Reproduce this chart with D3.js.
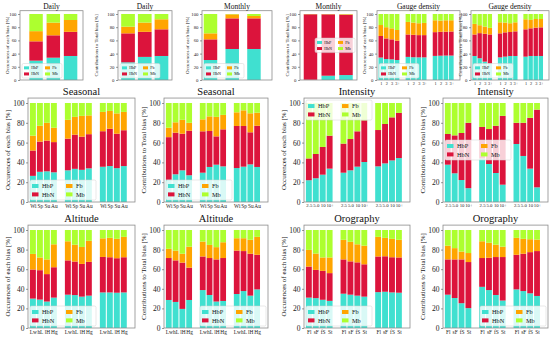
<!DOCTYPE html>
<html><head><meta charset="utf-8">
<script src="https://cdn.jsdelivr.net/npm/d3@7"></script>
<style>body{margin:0;background:#fff}svg{display:block;font-family:"Liberation Serif","DejaVu Serif",serif}</style>
</head><body>
<svg id="c" width="550" height="338"></svg>
<script>
// ---------- categories / labels ----------
const seriesKeys = ["HbP","HbN","Fb","Mb"];
const seriesColors = {HbP:"#40E0D0", HbN:"#DC143C", Fb:"#FFA500", Mb:"#ADFF2F"};
const legendOrder = ["HbP","Fb","HbN","Mb"];
const yTicks = [0,20,40,60,80,100];
const gaugeLabels = ["1","2","3","3+"];
const seasonLabels = ["Wi","Sp","Su","Au"];
const intensityLabels = ["2.5","5.0","10","10+"];
const altitudeLabels = ["Lw","hL","lH","Hg"];
const orographyLabels = ["Fl","sF","fS","St"];
const occLabel = "Occurences of each bias [%]";
const conLabel = "Contributions to Total bias [%]";

// ---------- series values ----------
const dailyOccHbP = [29.3,33.8,36.4];
const dailyOccHbN = [29.3,33.9,36.6];
const dailyOccFb  = [15.4,19.2,17.9];
const dailyOccMb  = [26.0,13.1,9.1];

const dailyConHbP = [26.8,35.0,36.4];
const dailyConHbN = [43.9,38.0,40.4];
const dailyConFb  = [10.1,14.0,15.2];
const dailyConMb  = [19.2,13.0,8.0];

const monthlyOccHbP = [30.3,47.0,47.0];
const monthlyOccHbN = [31.3,46.4,46.4];
const monthlyOccFb  = [9.1,6.1,3.6];
const monthlyOccMb  = [29.3,0.5,3.0];

const monthlyConHbP = [0.3,6.5,7.5];
const monthlyConHbN = [99.3,93.0,91.5];
const monthlyConFb  = [0.2,0.3,0.7];
const monthlyConMb  = [0.2,0.2,0.3];

const gaugeOccHbP = [34,31.8,31.3,30.3, 35,34.5,34.3,34.3, 36.5,36.8,37,37];
const gaugeOccHbN = [32.7,31.2,30.3,29.3, 34,34,33.7,33.7, 36,36.2,36.2,36.5];
const gaugeOccFb  = [16.6,17,16.7,16.2, 19,18.5,18,18.5, 18,17,17.3,17];
const gaugeOccMb  = [16.7,20,21.7,24.2, 12,13,14,13.5, 9.5,10,9.5,9.5];

const gaugeConHbP = [36.4,33,27.8,25, 34.3,35.4,36.4,36.4, 35.4,36.4,36.4,36.4];
const gaugeConHbN = [32.6,38,42.2,44, 36.4,36.8,36.3,37.3, 41.4,41.9,42.9,43.4];
const gaugeConFb  = [16,12,11,10, 16.7,14.8,13.3,13.7, 15.2,12.7,13.1,12.6];
const gaugeConMb  = [15,17,19,21, 12.6,13,14,12.6, 8,9,7.6,7.6];

const seasonOccHbP = [26.4,30.5,31,30, 32,33.5,32.5,34, 35.6,36.3,34.2,36.3];
const seasonOccHbN = [25.6,30.5,31,30.5, 32,34.5,33.5,34.5, 35.9,37.7,34.8,36.2];
const seasonOccFb  = [15,16,18,14.5, 19,18,21,19, 19.5,18,20.5,18.5];
const seasonOccMb  = [33,23,20,25, 17,14,13,12.5, 9,8,10.5,9];

const seasonConHbP = [22.5,28,32,27, 29.6,35.4,37.7,36, 34.3,35.7,38,35.4];
const seasonConHbN = [43,42,37,45, 41.8,36.3,28.6,37.4, 42.5,41.1,32.4,41.6];
const seasonConFb  = [9.5,10.5,14,8, 12.1,14.8,19.7,14.6, 13.8,15.8,19.2,13.2];
const seasonConMb  = [25,19.5,17,20, 16.5,13.5,14,12, 9.4,7.4,10.4,9.8];

const intensOccHbP = [22,24,27.6,33.7, 29.6,32,35.7,40.4, 36,39,42,44.4];
const intensOccHbN = [22,24.5,28,33.3, 29.4,31.6,35.7,42.1, 36.7,39.8,43.5,45.6];
const intensOccFb  = [0,0,0,0, 0,0,0,0, 0,0,0,0];
const intensOccMb  = [56,51.5,44.4,33, 41,36.4,28.6,17.5, 27.3,21.2,14.5,10];

const intensConHbP = [37.7,29,22.2,14, 44,38.4,29.3,17.5, 58.6,46.5,33.7,14.8];
const intensConHbN = [31,38.3,47.5,66, 31.8,35.3,47.7,69.5, 21.4,33.5,51.3,78.5];
const intensConFb  = [0,0,0,0, 0,0,0,0, 0,0,0,0];
const intensConMb  = [31.3,32.7,30.3,20, 24.2,26.3,23,13, 20,20,15,6.7];

const altOccHbP = [30,29,27,31, 34,33.6,32,33, 36.3,36.3,36,36.3];
const altOccHbN = [29.7,30,28,31, 35,34.2,33.4,34.5, 36.2,35.9,35.2,35.9];
const altOccFb  = [15.9,13,15,23.4, 19.5,17.2,17.3,21.5, 19,19.8,19.8,20.8];
const altOccMb  = [24.4,28,30,14.6, 11.5,15,17.3,11, 8.5,8,9,7];

const altConHbP = [28.6,26.6,19.5,28.6, 38.7,33.7,27,27.6, 34.7,37.7,33,39.4];
const altConHbN = [42.8,42.4,47.2,33, 34.3,37.7,43,43.8, 44.3,40.8,42.8,35.3];
const altConFb  = [9.4,10,9.1,21.4, 15.2,13.4,12.5,16.1, 12.6,13.1,14.2,18.3];
const altConMb  = [19.2,21,24.2,17, 11.8,15.2,17.5,12.5, 8.4,8.4,10,7];

const oroOccHbP = [31,30.5,28.8,27.7, 35,34,33,32, 36.6,37,36.3,36];
const oroOccHbN = [31.7,28.8,29.5,28.3, 35,34,34,33, 36.4,36.2,35.9,36];
const oroOccFb  = [17,16.7,13.7,16, 20,20,18.4,19, 20,18.8,18.8,18];
const oroOccMb  = [20.3,24,28,28, 10,12,14.6,16, 7,8,9,10];

const oroConHbP = [34,30.6,25.3,20.3, 42,38.7,33.7,28, 39.4,37.7,35.4,32.7];
const oroConHbN = [36,39.4,44.7,47, 29.4,33,38.7,44.4, 35.3,38.1,42,45.8];
const oroConFb  = [14,11.5,8,9.2, 17.1,15.3,12.6,10.6, 17.3,15.2,13.2,11.7];
const oroConMb  = [16,18.5,22,23.5, 11.5,13,15,17, 8,9,9.4,9.8];

// ---------- layout ----------
const small = {title:7.5, tick:4.8, ylab:5, xlab:4.3, leg:4, legW:40, legH:14.5, sq:[5,3], titleGap:4, ylOff:11};
const big   = {title:10.5, tick:7.5, ylab:7, xlab:5.4, leg:6.3, legW:66, legH:20, sq:[6.5,4], titleGap:5, ylOff:18.5};
const topRow = {y0:80, y100:14};
const midRow = {y0:202, y100:103};
const botRow = {y0:328, y100:230};
const dom12 = [-0.7, 14.6];

const panels = [
 {t:"Daily", yl:occLabel, row:topRow, s:small, l:20, r:83, dom:[-0.93,2.72], per:3, bw:0.78, d:[dailyOccHbP,dailyOccHbN,dailyOccFb,dailyOccMb], lab:null, leg:"ll"},
 {t:"Daily", yl:conLabel, row:topRow, s:small, l:118, r:172, dom:[-0.6,2.63], per:3, bw:0.82, d:[dailyConHbP,dailyConHbN,dailyConFb,dailyConMb], lab:null, leg:"ll", ylOff:20},
 {t:"Monthly", yl:occLabel, row:topRow, s:small, l:202, r:272, dom:[-0.39,2.83], per:3, bw:0.62, d:[monthlyOccHbP,monthlyOccHbN,monthlyOccFb,monthlyOccMb], lab:null, leg:"ll", ylOff:13},
 {t:"Monthly", yl:conLabel, row:topRow, s:small, l:300, r:357, dom:[-0.59,2.62], per:3, bw:0.76, d:[monthlyConHbP,monthlyConHbN,monthlyConFb,monthlyConMb], lab:null, leg:"cr"},
 {t:"Gauge density", yl:occLabel, row:topRow, s:small, l:377, r:460, dom:dom12, per:4, bw:0.85, d:[gaugeOccHbP,gaugeOccHbN,gaugeOccFb,gaugeOccMb], lab:gaugeLabels, leg:"ll"},
 {t:"Gauge density", yl:conLabel, row:topRow, s:small, l:471, r:549, dom:dom12, per:4, bw:0.85, d:[gaugeConHbP,gaugeConHbN,gaugeConFb,gaugeConMb], lab:gaugeLabels, leg:"ll", ylOff:9},
 {t:"Seasonal", yl:occLabel, row:midRow, s:big, l:28, r:135, dom:dom12, per:4, bw:0.85, d:[seasonOccHbP,seasonOccHbN,seasonOccFb,seasonOccMb], lab:seasonLabels, leg:"ll"},
 {t:"Seasonal", yl:conLabel, row:midRow, s:big, l:164, r:268, dom:dom12, per:4, bw:0.85, d:[seasonConHbP,seasonConHbN,seasonConFb,seasonConMb], lab:seasonLabels, leg:"ll"},
 {t:"Intensity", yl:occLabel, row:midRow, s:big, l:304, r:410, dom:dom12, per:4, bw:0.85, d:[intensOccHbP,intensOccHbN,intensOccFb,intensOccMb], lab:intensityLabels, leg:"ul", xf:4.8},
 {t:"Intensity", yl:conLabel, row:midRow, s:big, l:443, r:548, dom:dom12, per:4, bw:0.85, d:[intensConHbP,intensConHbN,intensConFb,intensConMb], lab:intensityLabels, leg:"cl", xf:4.8},
 {t:"Altitude", yl:occLabel, row:botRow, s:big, l:28, r:135, dom:dom12, per:4, bw:0.85, d:[altOccHbP,altOccHbN,altOccFb,altOccMb], lab:altitudeLabels, leg:"ll"},
 {t:"Altitude", yl:conLabel, row:botRow, s:big, l:164, r:268, dom:dom12, per:4, bw:0.85, d:[altConHbP,altConHbN,altConFb,altConMb], lab:altitudeLabels, leg:"lr"},
 {t:"Orography", yl:occLabel, row:botRow, s:big, l:304, r:410, dom:dom12, per:4, bw:0.85, d:[oroOccHbP,oroOccHbN,oroOccFb,oroOccMb], lab:orographyLabels, leg:"ll"},
 {t:"Orography", yl:conLabel, row:botRow, s:big, l:443, r:548, dom:dom12, per:4, bw:0.85, d:[oroConHbP,oroConHbN,oroConFb,oroConMb], lab:orographyLabels, leg:"lr"}
];

const FONT = "Liberation Serif, DejaVu Serif, serif";
const svg = d3.select("#c");

function drawPanel(p){
  const s = p.s;
  const g = svg.append("g").style("font-family", FONT);
  const y = d3.scaleLinear().domain([0,100]).range([p.row.y0, p.row.y100]);
  const top = y(105), bottom = y(0);
  const x = d3.scaleLinear().domain(p.dom).range([p.l, p.r]);
  const n = p.d[0].length;
  const rows = d3.range(n).map(i => {
    const o = {pos: Math.floor(i/p.per)*(p.per+1) + (i % p.per), i};
    seriesKeys.forEach((k,j) => o[k] = p.d[j][i]);
    return o;
  });
  const stacked = d3.stack().keys(seriesKeys)(rows);
  const bw = (x(1)-x(0))*p.bw;

  stacked.forEach(layer => {
    g.append("g").selectAll("rect").data(layer).join("rect")
      .attr("x", d => x(d.data.pos) - bw/2)
      .attr("width", bw)
      .attr("y", d => y(d[1]))
      .attr("height", d => Math.max(0, y(d[0]) - y(d[1])))
      .attr("fill", seriesColors[layer.key]);
  });

  g.append("rect").attr("x", p.l).attr("y", top).attr("width", p.r - p.l).attr("height", bottom - top)
    .attr("fill","none").attr("stroke","#8c8c8c").attr("stroke-width",0.8);

  const ax = g.append("g").attr("transform", `translate(${p.l},0)`)
    .call(d3.axisLeft(y).tickValues(yTicks).tickSize(2).tickPadding(1.5));
  ax.select(".domain").remove();
  ax.selectAll("line").attr("stroke","#555").attr("stroke-width",0.6);
  ax.selectAll("text").attr("font-size", s.tick).style("font-family", FONT).attr("fill","#222");

  if (p.lab){
    const xa = g.append("g").attr("transform", `translate(0,${bottom})`)
      .call(d3.axisBottom(x).tickValues(rows.map(r => r.pos)).tickFormat((d,i) => p.lab[i % p.per]).tickSize(0).tickPadding(2));
    xa.select(".domain").remove();
    xa.selectAll("text").attr("font-size", p.xf || s.xlab).style("font-family", FONT).attr("fill","#222");
  }

  g.append("text").attr("x", (p.l+p.r)/2).attr("y", top - s.titleGap + 2)
    .attr("text-anchor","middle").attr("font-size", s.title).attr("fill","#111").text(p.t);

  const yo = p.ylOff || s.ylOff;
  g.append("text").attr("transform", `translate(${p.l - yo},${(top+bottom)/2}) rotate(-90)`)
    .attr("text-anchor","middle").attr("font-size", s.ylab).attr("fill","#111").text(p.yl);

  const w = s.legW, h = s.legH;
  let lx, ly;
  if (p.leg === "ll"){ lx = p.l + 2; ly = bottom - 2 - h; }
  else if (p.leg === "lr"){ lx = p.r - 2 - w; ly = bottom - 2 - h; }
  else if (p.leg === "ul"){ lx = p.l + 2; ly = top + 2; }
  else if (p.leg === "cl"){ lx = p.l + 2; ly = (top+bottom)/2 - h/2; }
  else { lx = p.r - 2 - w; ly = (top+bottom)/2 - h/2; }
  const lg = g.append("g").attr("transform", `translate(${lx},${ly})`);
  lg.append("rect").attr("width", w).attr("height", h).attr("rx", 1.5)
    .attr("fill","#fff").attr("fill-opacity",0.8).attr("stroke","#d0d0d0").attr("stroke-width",0.5);
  legendOrder.forEach((k, i) => {
    const col = i % 2, rowi = Math.floor(i/2);
    const ex = 2 + col * (w/2 + 1), ey = h * (rowi === 0 ? 0.3 : 0.72);
    lg.append("rect").attr("x", ex).attr("y", ey - s.sq[1]/2).attr("width", s.sq[0]).attr("height", s.sq[1]).attr("fill", seriesColors[k]);
    lg.append("text").attr("x", ex + s.sq[0] + s.leg*0.55).attr("y", ey).attr("dy","0.35em")
      .attr("font-size", s.leg).attr("fill","#111").text(k);
  });
}

panels.forEach(drawPanel);
</script>
</body></html>
